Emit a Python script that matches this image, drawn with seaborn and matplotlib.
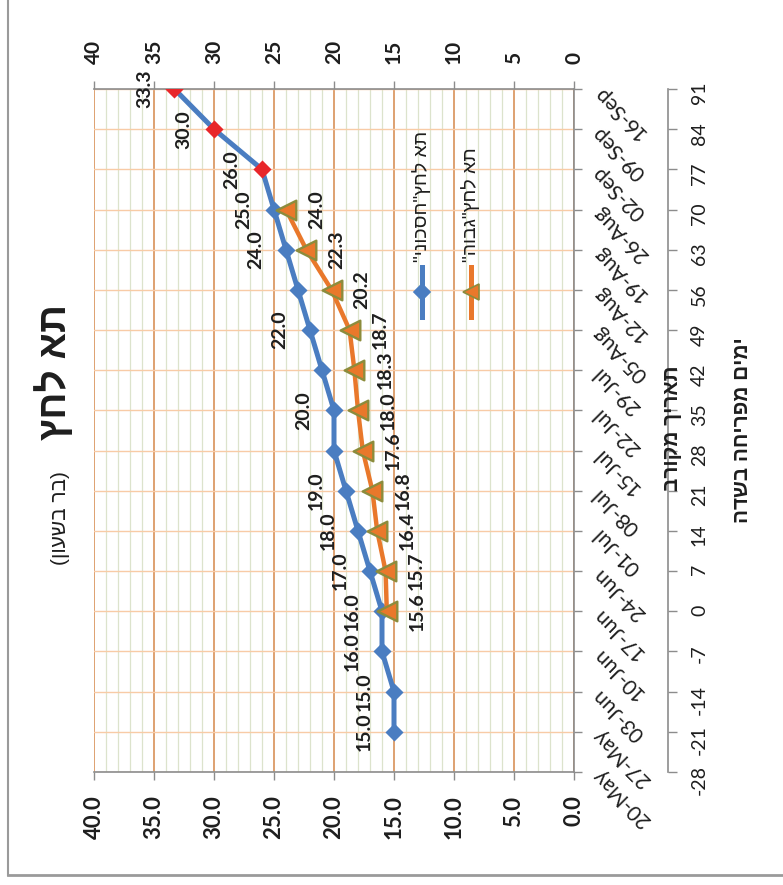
import matplotlib
matplotlib.use("Agg")
import matplotlib.pyplot as plt
import seaborn as sns
import numpy as np
from matplotlib.lines import Line2D

# ציר הקטגוריות (ימים מפריחה ותאריך מקורב)
days = [-28, -21, -14, -7, 0, 7, 14, 21, 28, 35, 42, 49, 56, 63, 70, 77, 84, 91]
dates = ["20-May", "27-May", "03-Jun", "10-Jun", "17-Jun", "24-Jun", "01-Jul", "08-Jul",
         "15-Jul", "22-Jul", "29-Jul", "05-Aug", "12-Aug", "19-Aug", "26-Aug", "02-Sep",
         "09-Sep", "16-Sep"]

# תא לחץ "חסכוני"
econ_days = [-21, -14, -7, 0, 7, 14, 21, 28, 35, 42, 49, 56, 63, 70, 77, 84, 91]
econ_vals = [15.0, 15.0, 16.0, 16.0, 17.0, 18.0, 19.0, 20.0, 20.0, 21.0, 22.0, 23.0,
             24.0, 25.0, 26.0, 30.0, 33.3]
econ_red_from = 14          # last points drawn in red
econ_no_label = [28, 42, 56]

# תא לחץ "גבוה"
high_days = [0, 7, 14, 21, 28, 35, 42, 49, 56, 63, 70]
high_vals = [15.6, 15.7, 16.4, 16.8, 17.6, 18.0, 18.3, 18.7, 20.2, 22.3, 24.0]

value_ticks = [0, 5, 10, 15, 20, 25, 30, 35, 40]

BLUE = "#4A7DC1"
RED = "#E8262A"
ORANGE = "#E9782B"
OLIVE = "#8C8C3C"
GREY = "#8C8C8C"
TXT = "#1E1E1E"
HEB = ["Liberation Sans", "DejaVu Sans"]

plt.rcParams["font.family"] = ["Lato", "DejaVu Sans"]


def heb(s):
    # matplotlib has no bidi: reverse and mirror brackets
    swap = {"(": ")", ")": "("}
    return "".join(swap.get(c, c) for c in s[::-1])


W, H = 783, 885
fig = plt.figure(figsize=(W / 100, H / 100), dpi=100)


def fx(px):
    return px / W


def fy(py):
    return 1 - py / H


ax = fig.add_axes([fx(94), fy(772), fx(574) - fx(94), fy(89) - fy(772)])

# series
sns.lineplot(x=econ_vals, y=econ_days, sort=False, estimator=None, color=BLUE,
             lw=3.6, ax=ax, zorder=3)
sns.scatterplot(x=econ_vals[:econ_red_from], y=econ_days[:econ_red_from], marker="D",
                s=85, color=BLUE, edgecolor=BLUE, linewidth=0, ax=ax, zorder=4)
sns.scatterplot(x=econ_vals[econ_red_from:], y=econ_days[econ_red_from:], marker="D",
                s=85, color=RED, edgecolor=RED, linewidth=0, ax=ax, zorder=4)
sns.lineplot(x=high_vals, y=high_days, sort=False, estimator=None, color=ORANGE,
             lw=3.2, ax=ax, zorder=5)
sns.scatterplot(x=high_vals, y=high_days, marker="<", s=200, color=ORANGE,
                edgecolor=OLIVE, linewidth=1.7, ax=ax, zorder=6)

# data labels
for d, v in zip(econ_days, econ_vals):
    if d in econ_no_label:
        continue
    ax.annotate(f"{v:.1f}", (v, d), xytext=(-21.5, 0), textcoords="offset points",
                rotation=90, ha="center", va="center", fontsize=14,
                fontweight="bold", color=TXT, zorder=8)
for d, v in zip(high_days, high_vals):
    ax.annotate(f"{v:.1f}", (v, d), xytext=(22, 0), textcoords="offset points",
                rotation=90, ha="center", va="center", fontsize=14,
                fontweight="bold", color=TXT, zorder=8)

ax.set_xlim(40, 0)
ax.set_ylim(days[0], days[-1])
ax.set_xlabel("")
ax.set_ylabel("")

# twins first (they reset tick sides)
axt = ax.twiny()
axd = ax.twinx()
axd.spines["right"].set_position(("outward", 94 * 0.72))

# value axis (orig. left axis, now at the bottom)
ax.set_xticks(value_ticks)
ax.set_xticks(np.arange(0, 41, 1), minor=True)
ax.set_xticklabels([f"{v:.1f}" for v in value_ticks], rotation=90, fontsize=16,
                   fontweight="bold", color=TXT)
ax.tick_params(axis="x", which="major", bottom=True, top=False, direction="out",
               length=6, width=1, color=GREY, pad=11)
ax.tick_params(axis="x", which="minor", length=0)

# date axis on the right
ax.yaxis.tick_right()
ax.set_yticks(days)
ax.set_yticklabels(dates)
ax.tick_params(axis="y", left=False, labelleft=False, right=True, labelright=True,
               direction="out", length=6, width=1, color=GREY, pad=10,
               labelsize=15, labelcolor=TXT)
plt.setp(ax.get_yticklabels(), rotation=135, rotation_mode="anchor", ha="right",
         va="center")

ax.grid(axis="x", which="major", color="#D4874A", lw=1.1)
ax.grid(axis="x", which="minor", color="#DCE3CC", lw=0.9)
ax.grid(axis="y", which="major", color="#F8CBA6", lw=1.0)
ax.set_axisbelow(True)
ax.spines["left"].set_visible(False)
for s in ["right", "top", "bottom"]:
    ax.spines[s].set_color(GREY)
    ax.spines[s].set_linewidth(1.2)

# secondary value axis on top
axt.set_xlim(ax.get_xlim())
axt.set_xticks(value_ticks)
axt.set_xticklabels([str(v) for v in value_ticks], rotation=90, fontsize=15,
                    fontweight="bold", color=TXT)
axt.tick_params(axis="x", direction="out", length=6, width=1, color=GREY, pad=12)
for s in axt.spines.values():
    s.set_visible(False)

# days-from-flowering axis
axd.set_ylim(ax.get_ylim())
axd.set_yticks(days)
axd.set_yticklabels([str(d) for d in days], rotation=90, fontsize=14, color=TXT)
for s in ["left", "top", "bottom"]:
    axd.spines[s].set_visible(False)
axd.spines["right"].set_color(GREY)
axd.spines["right"].set_linewidth(1.2)
axd.tick_params(axis="y", direction="out", length=6.5, width=1, color=GREY, pad=10)

# legend (rotated, drawn by hand)
for xa, col, mk, ms, mec in [((422 - 94) / 480, BLUE, "D", 8, BLUE),
                             ((471 - 94) / 480, ORANGE, "<", 11, OLIVE)]:
    ax.plot([xa, xa], [(772 - 267) / 683, (772 - 317) / 683], color=col, lw=3.6,
            transform=ax.transAxes, clip_on=False, zorder=9)
    ax.plot([xa], [(772 - 292) / 683], marker=mk, ms=ms, color=col, mec=mec, mew=1.2,
            transform=ax.transAxes, clip_on=False, zorder=10)
fig.text(fx(422), fy(262), heb('תא לחץ"חסכוני"'), rotation=90, rotation_mode="anchor",
         ha="left", va="center", fontsize=14, family=HEB, color=TXT)
fig.text(fx(471), fy(262), heb('תא לחץ"גבוה"'), rotation=90, rotation_mode="anchor",
         ha="left", va="center", fontsize=14, family=HEB, color=TXT)

# title and axis titles
fig.text(fx(66), fy(440), heb("תא לחץ"), rotation=90, rotation_mode="anchor",
         ha="left", va="baseline", fontsize=28, fontweight="bold", family=HEB, color=TXT)
fig.text(fx(66), fy(565), heb("(בר בשעון)"), rotation=90, rotation_mode="anchor",
         ha="left", va="baseline", fontsize=15, family=HEB, color=TXT)
fig.text(fx(672), fy(428), heb("תאריך מקורב"), rotation=90, ha="center", va="center",
         fontsize=15, fontweight="bold", family=HEB, color=TXT)
fig.text(fx(742), fy(430), heb("ימים מפריחה בשדה"), rotation=90, ha="center",
         va="center", fontsize=15, fontweight="bold", family=HEB, color=TXT)

# chart-area border
fig.add_artist(Line2D([fx(8), fx(8)], [fy(875), 1], transform=fig.transFigure,
                      color="#9A9A9A", lw=1.5))
fig.add_artist(Line2D([fx(8), 1], [fy(875), fy(875)], transform=fig.transFigure,
                      color="#9A9A9A", lw=2))

fig.savefig("out.png", dpi=100)
